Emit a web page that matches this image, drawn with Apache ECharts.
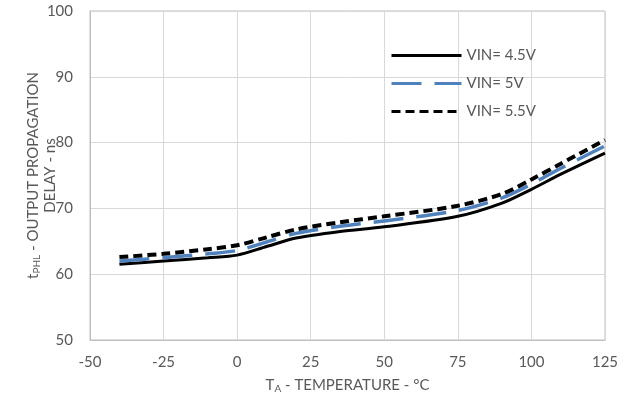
<!DOCTYPE html>
<html>
<head>
<meta charset="utf-8">
<script src="https://cdn.jsdelivr.net/npm/echarts@6/dist/echarts.min.js"></script>
<style>
	body { margin: 0; background: #fff; }
	#chart { width: 630px; height: 410px; }
</style>
</head>
<body>
<div id="chart"></div>
<script>
	// temperature (°C)
	var temps = [-40, -25, -10, 0, 10, 20, 35, 50, 75, 90, 100, 110, 125];
	// propagation delay tPHL (ns)
	var vin45 = [61.5, 62.0, 62.5, 62.9, 64.2, 65.5, 66.5, 67.2, 68.8, 70.8, 72.9, 75.2, 78.4];
	var vin50 = [62.0, 62.5, 63.1, 63.6, 64.9, 66.2, 67.3, 68.1, 69.7, 71.6, 73.7, 76.1, 79.5];
	var vin55 = [62.6, 63.1, 63.8, 64.4, 65.6, 66.8, 67.9, 68.8, 70.4, 72.2, 74.4, 76.8, 80.4];
	var seriesNames = ['VIN= 4.5V', 'VIN= 5V', 'VIN= 5.5V'];

	function pairs(ys) {
		return temps.map(function (t, i) { return [t, ys[i]]; });
	}

	var font = 'Lato, "Open Sans", sans-serif';
	var grey = '#595959';

	var myChart = echarts.init(document.getElementById('chart'));
	var option = {
		animation: false,
		textStyle: { fontFamily: font },
		grid: {
			left: 90,
			right: 25,
			top: 11,
			bottom: 70,
			show: true,
			borderColor: '#bfbfbf',
			borderWidth: 1
		},
		legend: {
			orient: 'vertical',
			left: 390,
			top: 48,
			padding: 0,
			itemWidth: 70,
			itemHeight: 14,
			itemGap: 13,
			data: seriesNames,
			itemStyle: { opacity: 0 },
			lineStyle: { width: 3 },
			textStyle: { color: grey, fontSize: 15, fontFamily: font }
		},
		xAxis: {
			type: 'value',
			min: -50,
			max: 125,
			interval: 25,
			name: 'T{sub|A} - TEMPERATURE - °C',
			nameLocation: 'middle',
			nameGap: 36,
			nameMoveOverlap: false,
			nameTextStyle: {
				color: grey,
				fontSize: 15,
				fontFamily: font,
				rich: {
					sub: { fontSize: 10, verticalAlign: 'bottom', padding: [8, 0, 0, 0], color: grey, fontFamily: font }
				}
			},
			axisLine: { show: true, onZero: false, lineStyle: { color: '#bfbfbf', width: 1 } },
			axisTick: { show: false },
			axisLabel: { color: grey, fontSize: 15, margin: 15, fontFamily: font },
			splitLine: { show: true, lineStyle: { color: '#d9d9d9', width: 1 } }
		},
		yAxis: {
			type: 'value',
			min: 50,
			max: 100,
			interval: 10,
			name: 't{sub|PHL} - OUTPUT PROPAGATION\nDELAY - ns',
			nameLocation: 'middle',
			nameRotate: 90,
			nameGap: 31,
			nameMoveOverlap: false,
			nameTextStyle: {
				color: grey,
				fontSize: 15,
				lineHeight: 17,
				fontFamily: font,
				rich: {
					sub: { fontSize: 10, verticalAlign: 'bottom', padding: [8, 0, 0, 0], color: grey, fontFamily: font }
				}
			},
			axisLine: { show: true, onZero: false, lineStyle: { color: '#bfbfbf', width: 1 } },
			axisTick: { show: false },
			axisLabel: { color: grey, fontSize: 15, margin: 17, fontFamily: font },
			splitLine: { show: true, lineStyle: { color: '#d9d9d9', width: 1 } }
		},
		series: [
			{
				name: seriesNames[0],
				type: 'line',
				smooth: 0.3,
				symbol: 'none',
				data: pairs(vin45),
				lineStyle: { color: '#000', width: 3 },
				itemStyle: { color: '#000' },
				z: 3
			},
			{
				name: seriesNames[1],
				type: 'line',
				smooth: 0.3,
				symbol: 'none',
				data: pairs(vin50),
				lineStyle: { color: '#4f81bd', width: 3.5, type: [30, 13] },
				itemStyle: { color: '#4f81bd' },
				z: 4
			},
			{
				name: seriesNames[2],
				type: 'line',
				smooth: 0.3,
				symbol: 'none',
				data: pairs(vin55),
				lineStyle: { color: '#000', width: 4, type: [9, 5] },
				itemStyle: { color: '#000' },
				z: 5
			}
		]
	};
	myChart.setOption(option);
</script>
</body>
</html>
